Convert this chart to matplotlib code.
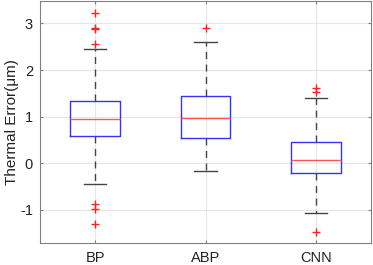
import matplotlib
matplotlib.use("Agg")
import matplotlib.pyplot as plt

categories = ["BP", "ABP", "CNN"]
q1 = [0.58, 0.54, -0.20]
med = [0.94, 0.98, 0.07]
q3 = [1.33, 1.44, 0.46]
whislo = [-0.44, -0.16, -1.07]
whishi = [2.45, 2.60, 1.39]
fliers = [[3.23, 2.90, 2.87, 2.55, -0.87, -0.99, -1.30],
          [2.91],
          [1.62, 1.52, -1.48]]
yticks = [-1, 0, 1, 2, 3]

plt.rcParams['font.family'] = ['Liberation Sans', 'DejaVu Sans']
fig = plt.figure(figsize=(3.73, 2.65), dpi=100)
ax = fig.add_axes([40 / 373, 22 / 265, 331 / 373, 242 / 265])

stats = []
for i, c in enumerate(categories):
    stats.append(dict(label=c, q1=q1[i], med=med[i], q3=q3[i],
                      whislo=whislo[i], whishi=whishi[i], fliers=fliers[i]))

ax.bxp(stats, positions=[1, 2, 3], widths=0.45, showfliers=True,
       boxprops=dict(color='#3333ff', linewidth=1.0),
       medianprops=dict(color='#ff5555', linewidth=1.0),
       whiskerprops=dict(color='#444444', linewidth=1.0, linestyle=(0, (5, 4))),
       capprops=dict(color='#444444', linewidth=1.0),
       capwidths=0.2,
       flierprops=dict(marker='+', markeredgecolor='#ff2222', markersize=6,
                       markeredgewidth=1.0, linestyle='none'))

ax.set_xlim(0.5, 3.5)
ax.set_ylim(-1.71, 3.48)
ax.set_yticks(yticks)
ax.set_yticklabels([str(t).replace('\u2212', '-') for t in yticks])
ax.set_xticks([1, 2, 3])
ax.set_xticklabels(categories)
ax.grid(True, color='#e6e6e6', linewidth=0.8)
ax.set_axisbelow(True)
for s in ax.spines.values():
    s.set_color('#808080')
ax.tick_params(direction='in', length=2.5, colors='#808080', labelcolor='#222222',
               labelsize=10.5, top=True, right=True)
ax.tick_params(axis='x', pad=5.5)
ax.tick_params(axis='y', pad=5)
ax.set_ylabel("Thermal Error(μm)", fontsize=11, color='#222222', va='center')
ax.yaxis.set_label_coords(-0.085, 0.5)

fig.savefig("out.png", dpi=100)
